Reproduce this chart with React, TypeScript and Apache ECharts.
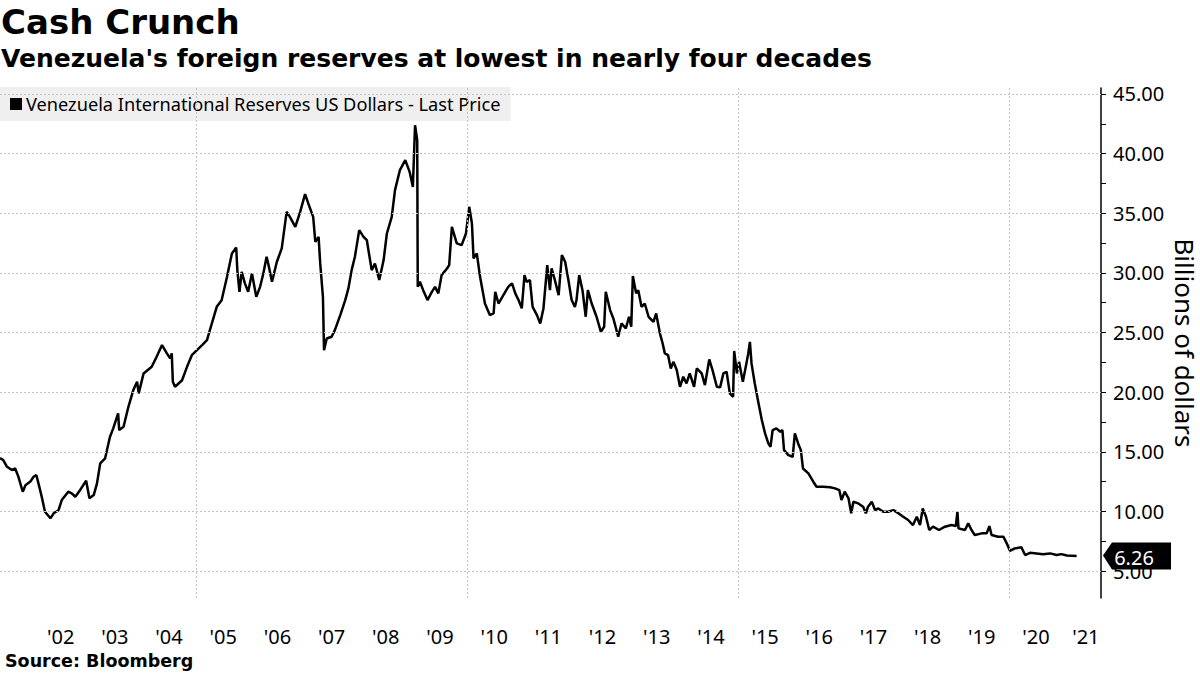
import React, { useEffect, useRef } from "react";
import * as echarts from "echarts";

const TITLE = "Cash Crunch";
const SUBTITLE = "Venezuela's foreign reserves at lowest in nearly four decades";
const SERIES_NAME = "Venezuela International Reserves US Dollars - Last Price";
const SOURCE = "Source: Bloomberg";
const Y_AXIS_NAME = "Billions of dollars";

// decimal years
const dates = [
  2001.38, 2001.44, 2001.51, 2001.6, 2001.66, 2001.72, 2001.8, 2001.85, 2001.94, 2002.0,
  2002.05, 2002.09, 2002.15, 2002.21, 2002.31, 2002.37, 2002.46, 2002.52, 2002.64, 2002.71,
  2002.77, 2002.86, 2002.97, 2003.03, 2003.11, 2003.17, 2003.23, 2003.32, 2003.41, 2003.47,
  2003.56, 2003.58, 2003.66, 2003.75, 2003.84, 2003.91, 2003.94, 2004.03, 2004.18, 2004.27,
  2004.37, 2004.46, 2004.52, 2004.55, 2004.57, 2004.61, 2004.74, 2004.83, 2004.92, 2005.01,
  2005.11, 2005.2, 2005.29, 2005.38, 2005.47, 2005.57, 2005.66, 2005.74, 2005.76, 2005.8,
  2005.84, 2005.9, 2005.96, 2006.03, 2006.11, 2006.18, 2006.24, 2006.3, 2006.33, 2006.4,
  2006.49, 2006.58, 2006.67, 2006.73, 2006.83, 2006.92, 2007.01, 2007.07, 2007.16, 2007.2,
  2007.26, 2007.29, 2007.34, 2007.36, 2007.41, 2007.5, 2007.56, 2007.66, 2007.75, 2007.81,
  2007.87, 2007.93, 2008.01, 2008.09, 2008.15, 2008.18, 2008.24, 2008.3, 2008.38, 2008.46,
  2008.52, 2008.61, 2008.67, 2008.76, 2008.86, 2008.94, 2009.0, 2009.04, 2009.08, 2009.09,
  2009.13, 2009.19, 2009.27, 2009.35, 2009.41, 2009.47, 2009.53, 2009.63, 2009.67, 2009.72,
  2009.81, 2009.9, 2009.98, 2010.04, 2010.09, 2010.12, 2010.18, 2010.24, 2010.33, 2010.42,
  2010.49, 2010.52, 2010.58, 2010.67, 2010.76, 2010.83, 2010.89, 2010.95, 2011.01, 2011.06,
  2011.1, 2011.16, 2011.21, 2011.29, 2011.35, 2011.41, 2011.48, 2011.53, 2011.56, 2011.62,
  2011.69, 2011.75, 2011.81, 2011.87, 2011.93, 2011.99, 2012.02, 2012.07, 2012.13, 2012.19,
  2012.23, 2012.3, 2012.39, 2012.47, 2012.53, 2012.56, 2012.64, 2012.7, 2012.79, 2012.85,
  2012.93, 2012.99, 2013.03, 2013.06, 2013.12, 2013.16, 2013.22, 2013.28, 2013.35, 2013.44,
  2013.49, 2013.56, 2013.61, 2013.65, 2013.71, 2013.76, 2013.81, 2013.87, 2013.93, 2013.99,
  2014.05, 2014.11, 2014.19, 2014.24, 2014.33, 2014.39, 2014.47, 2014.53, 2014.61, 2014.67,
  2014.73, 2014.79, 2014.85, 2014.91, 2014.93, 2014.98, 2015.02, 2015.09, 2015.15, 2015.19,
  2015.22, 2015.25, 2015.31, 2015.38, 2015.44, 2015.5, 2015.56, 2015.6, 2015.64, 2015.71,
  2015.78, 2015.82, 2015.85, 2015.93, 2016.01, 2016.05, 2016.11, 2016.16, 2016.2, 2016.3,
  2016.39, 2016.45, 2016.57, 2016.7, 2016.79, 2016.87, 2016.91, 2016.97, 2017.04, 2017.09,
  2017.13, 2017.22, 2017.31, 2017.36, 2017.4, 2017.47, 2017.53, 2017.59, 2017.68, 2017.77,
  2017.87, 2017.96, 2018.05, 2018.14, 2018.23, 2018.3, 2018.36, 2018.41, 2018.47, 2018.53,
  2018.6, 2018.71, 2018.82, 2018.94, 2019.02, 2019.05, 2019.07, 2019.19, 2019.25, 2019.31,
  2019.37, 2019.5, 2019.59, 2019.64, 2019.68, 2019.8, 2019.9, 2019.96, 2020.02, 2020.11,
  2020.23, 2020.3, 2020.39, 2020.51, 2020.63, 2020.76, 2020.88, 2020.97, 2021.07, 2021.16,
  2021.25,
];

// billions of US dollars
const reserves = [
  14.47, 14.3, 13.74, 13.47, 13.6, 12.9, 11.65, 12.2, 12.5, 12.9,
  13.05, 12.35, 11.23, 9.97, 9.42, 9.84, 10.1, 10.95, 11.65, 11.5,
  11.23, 11.8, 12.57, 11.1, 11.37, 12.35, 14.03, 14.45, 16.26, 16.96,
  18.22, 16.82, 17.1, 18.77, 20.17, 20.87, 19.9, 21.57, 22.13, 22.96,
  23.94, 23.25, 22.83, 23.25, 20.87, 20.45, 21.0, 22.1, 23.1, 23.5,
  23.94, 24.36, 25.76, 27.15, 27.7, 29.67, 31.63, 32.13, 30.23, 28.41,
  30.09, 29.12, 28.41, 29.95, 27.99, 28.83, 29.95, 31.35, 30.79, 29.25,
  30.93, 32.05, 35.12, 34.7, 33.86, 35.12, 36.6, 35.82, 34.7, 32.6,
  33.02, 30.79, 27.99, 23.52, 24.5, 24.64, 25.2, 26.46, 27.7, 28.7,
  30.23, 31.35, 33.58, 33.02, 32.75, 31.9, 30.23, 30.79, 29.4, 31.07,
  33.3, 34.7, 36.94, 38.61, 39.45, 38.47, 37.21, 42.38, 41.13, 28.83,
  29.25, 28.55, 27.72, 28.41, 28.83, 28.28, 29.81, 30.37, 30.65, 33.86,
  32.47, 32.33, 33.3, 35.54, 34.14, 31.21, 31.63, 29.67, 27.43, 26.46,
  26.6, 28.41, 27.43, 28.13, 28.83, 29.12, 28.28, 27.72, 27.02, 29.81,
  29.25, 29.4, 27.15, 26.46, 25.76, 27.02, 30.65, 28.55, 30.37, 29.4,
  28.13, 31.49, 30.93, 29.4, 27.72, 27.15, 27.72, 29.81, 28.55, 26.32,
  28.55, 27.43, 26.32, 25.06, 25.48, 28.41, 26.88, 26.18, 24.64, 25.76,
  25.34, 26.32, 25.48, 29.73, 28.28, 28.55, 27.15, 27.43, 26.32, 25.9,
  26.6, 24.92, 24.08, 23.25, 23.1, 21.99, 22.54, 21.85, 20.45, 21.29,
  20.73, 21.57, 20.45, 21.99, 21.57, 20.59, 22.74, 21.85, 20.45, 20.4,
  21.57, 21.71, 19.9, 19.61, 23.45, 21.57, 22.54, 20.87, 22.27, 23.25,
  24.22, 22.41, 20.73, 19.05, 17.66, 16.54, 15.7, 15.42, 16.82, 16.96,
  16.68, 16.82, 15.14, 14.72, 14.58, 16.54, 15.7, 15.14, 13.6, 13.19,
  12.49, 12.07, 12.07, 12.02, 11.93, 11.79, 10.95, 11.65, 11.1, 9.84,
  10.81, 10.67, 10.39, 9.84, 10.39, 10.81, 10.11, 10.25, 9.97, 9.97,
  10.11, 9.84, 9.55, 9.28, 8.86, 9.55, 8.86, 10.25, 9.55, 8.44,
  8.72, 8.44, 8.72, 8.86, 8.77, 9.97, 8.58, 8.44, 9.0, 8.44,
  8.02, 8.16, 8.16, 8.77, 8.02, 7.88, 7.88, 7.32, 6.7, 6.9,
  6.99, 6.34, 6.53, 6.48, 6.4, 6.48, 6.34, 6.42, 6.3, 6.28,
  6.26,
];

const LAST_VALUE = 6.26;
const yTickValues = [5, 10, 15, 20, 25, 30, 35, 40, 45];
const yTickMarks = [5, 7.5, 10, 12.5, 15, 17.5, 20, 22.5, 25, 27.5, 30, 32.5, 35, 37.5, 40, 42.5, 45];
const xLabelYears = [2002, 2003, 2004, 2005, 2006, 2007, 2008, 2009, 2010, 2011, 2012, 2013, 2014, 2015, 2016, 2017, 2018, 2019, 2020, 2021];
const xGridYears = [2005, 2010, 2015, 2020];

const X_MIN = 2001.38;
const X_MAX = 2021.7;
const Y_MIN = 2.74;
const Y_MAX = 45.5;

const LABEL_FONT = "Noto Sans";
const BOLD_FONT = "DejaVu Sans";

export default function App() {
  const ref = useRef<HTMLDivElement>(null);

  useEffect(() => {
    if (!ref.current) return;
    const chart = echarts.init(ref.current, null, { renderer: "svg" });

    const lineData = dates.map((d, i) => [d, reserves[i]]);
    // labels at mid-year; the final partial year label sits a bit earlier
    const xLabelPositions = xLabelYears.map((y) => (y === 2021 ? y + 0.42 : y + 0.5));

    const gridLine = { color: "#c4c4c4", type: [2, 2] as any, width: 1 };

    chart.setOption({
      animation: false,
      backgroundColor: "#ffffff",
      textStyle: { fontFamily: LABEL_FONT },
      grid: { left: 0, right: 99, top: 88, bottom: 77, containLabel: false, outerBoundsMode: "none" },
      legend: {
        data: [SERIES_NAME],
        left: 0,
        top: 87,
        backgroundColor: "#efefef",
        padding: [7, 10, 7, 10],
        icon: "rect",
        itemWidth: 12,
        itemHeight: 12,
        selectedMode: false,
        textStyle: { fontSize: 18.2, color: "#000", fontFamily: LABEL_FONT, lineHeight: 20, padding: [0, 0, 0, -1] },
      },
      xAxis: {
        type: "value",
        min: X_MIN,
        max: X_MAX,
        axisLine: { show: false },
        axisTick: { show: false },
        splitLine: { show: false },
        axisLabel: {
          customValues: xLabelPositions,
          formatter: (v: number) => "'" + String(Math.floor(v)).slice(2),
          fontSize: 20,
          color: "#000",
          fontFamily: LABEL_FONT,
          margin: 28,
        },
      },
      yAxis: {
        type: "value",
        position: "right",
        min: Y_MIN,
        max: Y_MAX,
        axisLine: { show: true, lineStyle: { color: "#000", width: 1.5 } },
        axisTick: { show: true, customValues: yTickMarks, length: 5, inside: false, lineStyle: { color: "#000", width: 1 } },
        axisLabel: {
          customValues: yTickValues,
          formatter: (v: number) => v.toFixed(2),
          fontSize: 20,
          color: "#000",
          fontFamily: LABEL_FONT,
          margin: 12,
        },
        splitLine: { show: false },
        name: Y_AXIS_NAME,
        nameLocation: "middle",
        nameRotate: -90,
        nameGap: 71,
        nameMoveOverlap: false,
        nameTextStyle: { fontSize: 26, color: "#000", fontFamily: LABEL_FONT },
      },
      series: [
        {
          type: "line",
          name: "grid",
          data: [],
          z: 1,
          silent: true,
          markLine: {
            symbol: ["none", "none"],
            silent: true,
            animation: false,
            label: { show: false },
            lineStyle: gridLine,
            data: [
              ...yTickValues.map((v) => ({ yAxis: v })),
              ...xGridYears.map((v) => ({ xAxis: v })),
            ],
          },
        },
        {
          type: "line",
          name: SERIES_NAME,
          data: lineData,
          z: 3,
          showSymbol: false,
          symbol: "none",
          itemStyle: { color: "#000" },
          lineStyle: { color: "#000", width: 2.5 },
          markPoint: {
            symbol: "path://M0,13L9,0L68,0L68,27L9,27Z",
            symbolSize: [68, 27],
            symbolOffset: [36, 0],
            silent: true,
            animation: false,
            itemStyle: { color: "#000" },
            label: {
              show: true,
              color: "#fff",
              fontSize: 20,
              fontFamily: LABEL_FONT,
              formatter: (p: any) => Number(p.value).toFixed(2),
              offset: [-3, 1],
            },
            data: [{ coord: [X_MAX, LAST_VALUE], value: LAST_VALUE }],
          },
        },
      ],
      graphic: [
        {
          type: "text",
          left: 1,
          top: 5,
          style: { text: TITLE, font: `bold 34px "${BOLD_FONT}"`, fill: "#000" },
        },
        {
          type: "text",
          left: 1,
          top: 46,
          style: { text: SUBTITLE, font: `bold 25px "${BOLD_FONT}"`, fill: "#000" },
        },
        {
          type: "text",
          left: 5,
          top: 652,
          style: { text: SOURCE, font: `bold 17.5px "${BOLD_FONT}"`, fill: "#000" },
        },
      ],
    });

    return () => chart.dispose();
  }, []);

  return (
    <div
      ref={ref}
      style={{ position: "fixed", left: 0, top: 0, width: 1200, height: 675, background: "#fff" }}
    />
  );
}
